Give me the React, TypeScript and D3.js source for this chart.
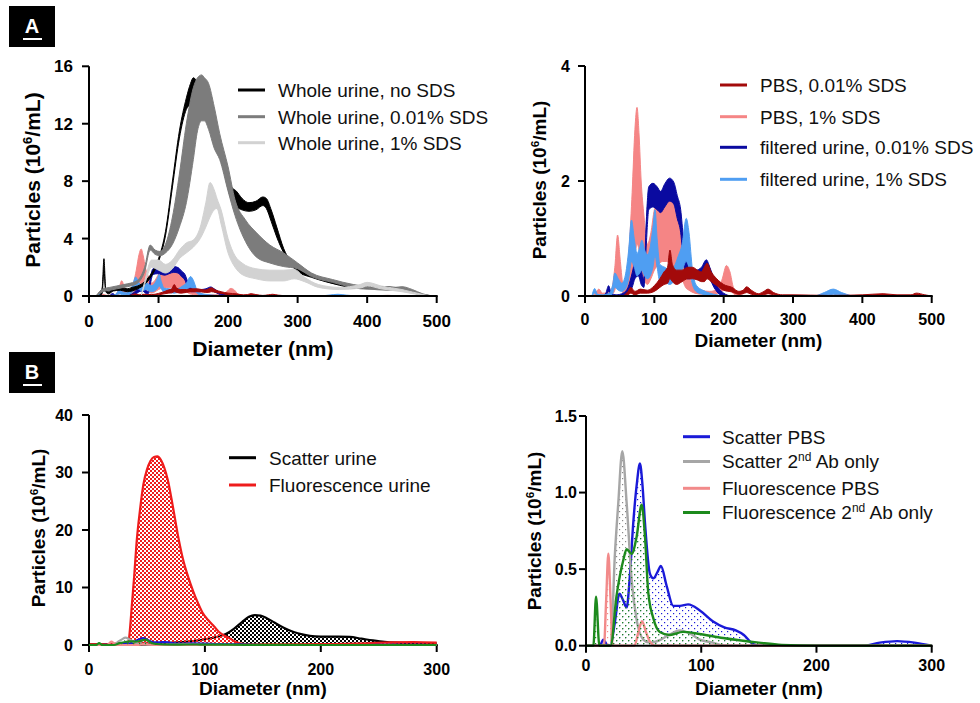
import React from 'react';
import * as d3 from 'd3';

// ---------- Panel A (left): whole urine, bands (lower / upper) ----------
const noSdsX = [10, 15, 19, 21.5, 24, 28, 35, 45, 55, 62, 70, 80, 90, 100, 110, 120, 130, 140, 146, 150, 153, 158, 165, 175, 185, 195, 205, 212, 220, 230, 240, 250, 255, 262, 270, 280, 290, 300, 320, 340, 360, 380, 400, 420, 440, 460, 480, 500];
const noSdsHi = [0, 0.05, 0.6, 2.6, 0.5, 0.3, 0.6, 0.6, 0.5, 0.6, 0.7, 1.0, 1.6, 2.6, 4.5, 8.0, 11.5, 13.8, 14.8, 15.2, 15.1, 14.5, 13.5, 12.8, 11.2, 9.6, 7.6, 7.3, 6.8, 6.5, 6.6, 6.9, 6.8, 6.0, 4.8, 3.3, 2.4, 1.9, 1.45, 1.15, 0.9, 0.7, 0.65, 0.65, 0.6, 0.4, 0.1, 0];
const noSdsLo = [0, 0, 0.2, 1.8, 0.3, 0.15, 0.35, 0.4, 0.3, 0.35, 0.5, 0.8, 1.4, 2.4, 4.2, 7.6, 11.0, 13.0, 13.4, 13.8, 14.0, 13.5, 12.8, 12.0, 10.2, 8.6, 6.6, 6.2, 6.0, 5.9, 6.0, 6.3, 6.1, 5.2, 4.1, 3.0, 2.2, 1.7, 1.3, 1.0, 0.75, 0.55, 0.5, 0.5, 0.45, 0.3, 0.05, 0];

const sds001X = [10, 20, 30, 40, 50, 60, 70, 80, 88, 95, 102, 110, 120, 130, 140, 150, 156, 162, 166, 172, 180, 188, 200, 210, 225, 241, 260, 280, 300, 320, 350, 380, 400, 430, 450, 465, 480, 495];
const sds001Hi = [0, 0.5, 0.6, 0.7, 0.8, 0.9, 1.1, 2.0, 3.55, 3.2, 3.1, 3.6, 5.5, 8.5, 12.0, 14.5, 15.2, 15.4, 15.2, 14.8, 13.2, 11.3, 9.0, 6.7, 5.3, 4.4, 3.55, 3.0, 2.3, 1.6, 1.15, 0.8, 0.65, 0.55, 0.65, 0.45, 0.15, 0];
const sds001Lo = [0, 0.3, 0.4, 0.5, 0.6, 0.7, 0.9, 1.7, 3.2, 2.9, 2.8, 3.0, 3.6, 4.8, 6.5, 9.5, 11.5, 12.2, 12.2, 11.6, 10.3, 9.5, 7.3, 5.6, 3.8, 2.7, 2.3, 2.05, 1.9, 1.35, 0.95, 0.6, 0.5, 0.4, 0.45, 0.3, 0.05, 0];

const sds1X = [75, 80, 90, 100, 110, 120, 130, 140, 150, 160, 168, 174, 180, 184, 190, 200, 210, 220, 240, 260, 280, 295, 310, 330, 360, 390, 400, 420, 450, 480, 490];
const sds1Hi = [0, 1.0, 2.5, 2.5, 2.2, 2.5, 3.2, 3.7, 3.9, 4.8, 6.5, 7.9, 7.4, 6.8, 6.0, 4.0, 2.8, 2.3, 1.9, 1.8, 1.8, 1.85, 1.3, 0.8, 0.6, 0.8, 0.95, 0.7, 0.45, 0.1, 0];
const sds1Lo = [0, 0.8, 2.0, 1.8, 1.6, 1.9, 2.6, 3.0, 3.4, 4.0, 4.8, 5.5, 6.0, 6.1, 5.0, 3.0, 2.0, 1.5, 1.2, 1.05, 1.05, 1.2, 1.0, 0.6, 0.45, 0.55, 0.7, 0.5, 0.3, 0.05, 0];

// ---------- Panel A (right): PBS and filtered urine, bands ----------
const pbs001X = [55, 62, 66, 72, 80, 90, 100, 108, 114, 119, 122.5, 126, 132, 140, 148, 155, 162, 168, 172, 176, 182, 190, 200, 212, 222, 228, 233, 240, 250, 258, 264, 272, 285, 300, 350, 400, 430, 450, 470, 478, 490, 500];
const pbs001Hi = [0, 0.08, 0.15, 0.08, 0.12, 0.1, 0.18, 0.3, 0.42, 0.5, 0.8, 0.55, 0.45, 0.45, 0.5, 0.5, 0.45, 0.42, 0.5, 0.57, 0.42, 0.3, 0.2, 0.15, 0.08, 0.1, 0.16, 0.1, 0.04, 0.08, 0.12, 0.06, 0.02, 0.02, 0.01, 0.02, 0.04, 0.02, 0.02, 0.05, 0.02, 0];
const pbs001Lo = [0, 0.02, 0.05, 0.02, 0.05, 0.05, 0.08, 0.15, 0.2, 0.22, 0.3, 0.25, 0.2, 0.25, 0.3, 0.3, 0.28, 0.25, 0.25, 0.3, 0.25, 0.18, 0.1, 0.07, 0.03, 0.04, 0.06, 0.03, 0.01, 0.02, 0.04, 0.02, 0, 0, 0, 0, 0.01, 0, 0, 0.01, 0, 0];

const pbs1X = [10, 15, 20, 25, 30, 38, 43, 47, 51, 55, 60, 64, 68, 72, 75, 78, 81, 85, 90, 95, 100, 106, 112, 118, 124, 130, 135, 140, 145, 150, 158, 168, 180, 192, 198, 204, 209, 214, 222, 235];
const pbs1Hi = [0, 0.05, 0.12, 0.05, 0.05, 0.1, 0.5, 1.06, 0.6, 0.2, 0.3, 0.9, 1.8, 2.9, 3.28, 2.8, 2.0, 1.4, 0.9, 1.1, 1.5, 1.65, 1.72, 1.75, 1.65, 1.6, 1.5, 1.1, 0.6, 0.35, 0.18, 0.1, 0.08, 0.12, 0.3, 0.53, 0.42, 0.15, 0.03, 0];
const pbs1Lo = [0, 0, 0.04, 0, 0, 0.02, 0.1, 0.3, 0.2, 0.05, 0.08, 0.2, 0.4, 0.7, 0.9, 0.8, 0.5, 0.3, 0.2, 0.3, 0.45, 0.55, 0.6, 0.6, 0.55, 0.5, 0.45, 0.3, 0.15, 0.1, 0.05, 0.03, 0.02, 0.04, 0.08, 0.15, 0.12, 0.04, 0, 0];

const filt001X = [25, 30, 34, 38, 45, 55, 62, 68, 72, 77, 81, 85, 88, 92, 98, 104, 109, 115, 122, 128, 133, 138, 142, 147, 152, 160, 168, 175, 180, 186, 192, 200, 210];
const filt001Hi = [0, 0.05, 0.18, 0.05, 0.02, 0.05, 0.15, 0.4, 0.6, 0.68, 0.45, 0.3, 1.2, 1.9, 1.96, 1.9, 1.82, 1.95, 2.05, 1.98, 1.75, 1.5, 1.0, 0.6, 0.45, 0.45, 0.5, 0.63, 0.5, 0.3, 0.15, 0.05, 0];
const filt001Lo = [0, 0, 0.08, 0, 0, 0, 0.05, 0.15, 0.3, 0.35, 0.2, 0.15, 0.8, 1.5, 1.55, 1.5, 1.45, 1.55, 1.65, 1.6, 1.35, 1.1, 0.6, 0.3, 0.3, 0.3, 0.35, 0.4, 0.3, 0.15, 0.05, 0, 0];

const filt1X = [10, 14, 18, 25, 35, 40, 43, 48, 53, 58, 63, 67, 71, 75, 79, 82, 86, 90, 94, 98, 101, 104, 108, 115, 122, 128, 134, 140, 146, 150, 155, 161, 170, 180, 190, 200, 330, 345, 358, 370, 385];
const filt1Hi = [0, 0.13, 0.03, 0.02, 0.05, 0.2, 0.4, 0.3, 0.22, 0.35, 0.8, 1.32, 1.0, 0.74, 0.85, 0.97, 0.8, 0.72, 0.85, 1.2, 1.5, 1.0, 0.55, 0.5, 0.45, 0.5, 0.68, 0.9, 1.35, 1.1, 0.45, 0.18, 0.1, 0.05, 0.02, 0, 0, 0.06, 0.12, 0.06, 0];
const filt1Lo = [0, 0.05, 0, 0, 0, 0.05, 0.15, 0.1, 0.08, 0.12, 0.3, 0.6, 0.5, 0.35, 0.4, 0.45, 0.35, 0.3, 0.35, 0.5, 0.7, 0.5, 0.25, 0.25, 0.2, 0.25, 0.35, 0.45, 0.6, 0.5, 0.2, 0.07, 0.03, 0.01, 0, 0, 0, 0.01, 0.03, 0.01, 0];

// ---------- Panel B (left): urine ----------
const scatUrineX = [0, 20, 40, 60, 80, 90, 100, 110, 118, 125, 132, 138, 143, 148, 153, 160, 168, 176, 185, 195, 205, 215, 225, 235, 245, 255, 265, 280, 300];
const scatUrineY = [0.1, 0.1, 0.2, 0.3, 0.5, 0.7, 1.0, 1.4, 1.9, 2.8, 4.0, 4.9, 5.2, 5.1, 4.7, 3.9, 3.0, 2.3, 1.8, 1.5, 1.45, 1.45, 1.4, 1.1, 0.8, 0.55, 0.4, 0.3, 0.3];
const fluoUrineX = [0, 10, 20, 30, 34, 35, 37, 39, 41, 44, 47, 50, 53, 56, 59, 62, 65, 68, 72, 77, 81, 85.5, 90, 94, 98, 103, 108, 112, 117, 121, 125, 130, 135, 150, 200, 240, 260, 280, 300];
const fluoUrineY = [0.1, 0.1, 0.2, 0.3, 0.5, 2, 7, 12, 17.7, 23.5, 28, 30.5, 32, 32.7, 32.8, 32.2, 30.8, 28.7, 24.5, 18.8, 15, 11.9, 9.3, 7.3, 5.6, 4.3, 3.2, 2.3, 1.6, 1.2, 0.7, 0.3, 0.15, 0.1, 0.15, 0.3, 0.45, 0.5, 0.4];

// ---------- Panel B (right): controls ----------
const scatPbsX = [0, 12, 15, 18, 21, 25, 29, 32, 35.3, 38, 41, 44, 46.8, 49, 51.2, 55.5, 58.4, 62, 65, 70, 75.7, 81.5, 88.7, 98.8, 110, 120, 130, 137, 145, 150, 240, 255, 270, 285, 300];
const scatPbsY = [0, 0, 0.04, 0.01, 0, 0.15, 0.34, 0.3, 0.25, 0.45, 0.8, 1.05, 1.19, 1.05, 0.8, 0.47, 0.44, 0.48, 0.52, 0.39, 0.26, 0.26, 0.27, 0.23, 0.16, 0.12, 0.1, 0.07, 0.01, 0, 0, 0.02, 0.03, 0.02, 0];
const scat2ndX = [0, 21.4, 25.1, 28, 31.5, 35.3, 39.6, 43.9, 49.7, 55, 65, 72, 81.5, 90, 98.8, 110, 120, 300];
const scat2ndY = [0, 0, 0.6, 0.93, 1.27, 0.93, 0.43, 0.17, 0.04, 0.02, 0.04, 0.07, 0.1, 0.08, 0.04, 0.02, 0, 0];
const fluoPbsX = [0, 15.6, 17.5, 19.4, 21.3, 23.1, 42, 45.5, 48.6, 52, 56, 60, 300];
const fluoPbsY = [0, 0, 0.3, 0.6, 0.3, 0, 0, 0.09, 0.16, 0.09, 0.02, 0, 0];
const fluo2ndX = [0, 6.4, 8.7, 11.6, 21.4, 26.4, 32.4, 35.3, 39.6, 43.9, 48.3, 51.2, 54, 58.4, 64, 72.8, 84.3, 96, 119, 150, 170, 200, 300];
const fluo2ndY = [0, 0, 0.32, 0, 0, 0.32, 0.56, 0.63, 0.6, 0.71, 0.92, 0.71, 0.35, 0.18, 0.09, 0.07, 0.09, 0.08, 0.05, 0.02, 0.005, 0, 0];

// ---------- Ticks / labels ----------
const aLeftYTicks = [0, 4, 8, 12, 16];
const aRightYTicks = [0, 2, 4];
const aXTicks = [0, 100, 200, 300, 400, 500];
const bLeftYTicks = [0, 10, 20, 30, 40];
const bRightYTicks = [0, 0.5, 1.0, 1.5];
const bXTicks = [0, 100, 200, 300];
const aLeftLegend = ['Whole urine, no SDS', 'Whole urine, 0.01% SDS', 'Whole urine, 1% SDS'];
const aRightLegend = ['PBS, 0.01% SDS', 'PBS, 1% SDS', 'filtered urine, 0.01% SDS', 'filtered urine, 1% SDS'];
const bLeftLegend = ['Scatter urine', 'Fluorescence urine'];

const FONT = '"Liberation Sans", Arial, Helvetica, sans-serif';

const C = {
  black: '#000000', grey: '#7c7c7c', lgrey: '#d2d2d2',
  dred: '#a30a0a', pink: '#f58585', dblue: '#0a0aa0', lblue: '#4f9ef2',
  bblue: '#1a1ad8', bgrey: '#a6a6a6', bpink: '#f28a8a', bgreen: '#1d8a1d', bred: '#ee1c1c',
};

type Band = { x: number; lo: number; hi: number };
const toBand = (xs: number[], lo: number[], hi: number[]): Band[] => xs.map((x, i) => ({ x, lo: lo[i], hi: hi[i] }));
const toPts = (xs: number[], ys: number[]) => xs.map((x, i) => ({ x, y: ys[i] }));

function Axes(p: any) {
  const { sx, sy, xTicks, yTicks, yFmt, tickFs, titleFs, xLabY, xTitleY, yLabX, yTitleX, yTitleY } = p;
  const [x0, x1] = sx.range();
  const [y0, y1] = sy.range();
  const xc = (x0 + x1) / 2 + (p.xTitleShift || 0);
  return (
    <g fontFamily={FONT} fill="#000">
      <line x1={x0} x2={x1 + 1} y1={y0} y2={y0} stroke="#000" strokeWidth={2} />
      <line x1={x0} x2={x0} y1={y0 + 1} y2={y1} stroke="#000" strokeWidth={2} />
      {xTicks.map((t: number) => (
        <g key={'x' + t}>
          <line x1={sx(t)} x2={sx(t)} y1={y0} y2={y0 + 7} stroke="#000" strokeWidth={2} />
          <text x={sx(t)} y={xLabY} textAnchor="middle" fontWeight="bold" fontSize={tickFs}>{t}</text>
        </g>
      ))}
      {yTicks.map((t: number) => (
        <g key={'y' + t}>
          <line x1={x0 - 7} x2={x0} y1={sy(t)} y2={sy(t)} stroke="#000" strokeWidth={2} />
          <text x={yLabX} y={sy(t) + tickFs * 0.36} textAnchor="end" fontWeight="bold" fontSize={tickFs}>{yFmt(t)}</text>
        </g>
      ))}
      <text x={xc} y={xTitleY} textAnchor="middle" fontWeight="bold" fontSize={titleFs}>Diameter (nm)</text>
      <text transform={`translate(${yTitleX},${yTitleY}) rotate(-90)`} textAnchor="middle" fontWeight="bold" fontSize={titleFs}>
        Particles (10<tspan dy={-titleFs * 0.38} fontSize={titleFs * 0.62}>6</tspan><tspan dy={titleFs * 0.38}>/mL)</tspan>
      </text>
    </g>
  );
}

function BandPath({ data, sx, sy, color }: any) {
  const gen = d3.area<Band>().x(d => sx(d.x)).y0(d => sy(d.lo)).y1(d => sy(d.hi)).curve(d3.curveMonotoneX);
  return <path d={gen(data) || ''} fill={color} stroke={color} strokeWidth={1} strokeLinejoin="round" />;
}

function Curve({ data, sx, sy, color, fill, width = 2.2 }: any) {
  const area = d3.area<any>().x(d => sx(d.x)).y0(sy(0)).y1(d => sy(d.y)).curve(d3.curveMonotoneX);
  const line = d3.line<any>().x(d => sx(d.x)).y(d => sy(d.y)).curve(d3.curveMonotoneX);
  return (
    <g>
      {fill && <path d={area(data) || ''} fill={fill} stroke="none" />}
      <path d={line(data) || ''} fill="none" stroke={color} strokeWidth={width} strokeLinejoin="round" />
    </g>
  );
}

function Legend({ x, textX, rows, fs }: any) {
  return (
    <g fontFamily={FONT} fontSize={fs}>
      {rows.map((r: any, i: number) => (
        <g key={i}>
          <line x1={x} x2={x + 27} y1={r.y} y2={r.y} stroke={r.color} strokeWidth={3} />
          <text x={textX} y={r.y + fs * 0.36} fill="#111">{r.label}</text>
        </g>
      ))}
    </g>
  );
}

function PanelLabel({ y, letter }: any) {
  return (
    <g>
      <rect x={9} y={y} width={46} height={41} fill="#000" />
      <text x={32} y={y + 27} textAnchor="middle" fill="#fff" fontFamily={FONT} fontWeight="bold" fontSize={20}>{letter}</text>
      <line x1={23} x2={42} y1={y + 33} y2={y + 33} stroke="#fff" strokeWidth={2} />
    </g>
  );
}

export default function App() {
  const aLx = d3.scaleLinear().domain([0, 500]).range([89, 436.7]);
  const aLy = d3.scaleLinear().domain([0, 16]).range([296, 66.3]);
  const aRx = d3.scaleLinear().domain([0, 500]).range([585, 931.7]);
  const aRy = d3.scaleLinear().domain([0, 4]).range([296, 66]);
  const bLx = d3.scaleLinear().domain([0, 300]).range([89, 436.7]);
  const bLy = d3.scaleLinear().domain([0, 40]).range([645, 415]);
  const bRx = d3.scaleLinear().domain([0, 300]).range([586, 931.7]);
  const bRy = d3.scaleLinear().domain([0, 1.5]).range([645.7, 416]);

  const noSds = toBand(noSdsX, noSdsLo, noSdsHi);
  const sds001 = toBand(sds001X, sds001Lo, sds001Hi);
  const sds1 = toBand(sds1X, sds1Lo, sds1Hi);
  const pbs001 = toBand(pbs001X, pbs001Lo, pbs001Hi);
  const pbs1 = toBand(pbs1X, pbs1Lo, pbs1Hi);
  const filt001 = toBand(filt001X, filt001Lo, filt001Hi);
  const filt1 = toBand(filt1X, filt1Lo, filt1Hi);

  const scatUrine = toPts(scatUrineX, scatUrineY);
  const fluoUrine = toPts(fluoUrineX, fluoUrineY);
  const scatPbs = toPts(scatPbsX, scatPbsY);
  const scat2nd = toPts(scat2ndX, scat2ndY);
  const fluoPbs = toPts(fluoPbsX, fluoPbsY);
  const fluo2nd = toPts(fluo2ndX, fluo2ndY);

  const smallA = (sx: any, sy: any) => (
    <g>
      <BandPath data={pbs1} sx={sx} sy={sy} color={C.pink} />
      <BandPath data={filt001} sx={sx} sy={sy} color={C.dblue} />
      <BandPath data={filt1} sx={sx} sy={sy} color={C.lblue} />
      <BandPath data={pbs001} sx={sx} sy={sy} color={C.dred} />
    </g>
  );

  const smallB = (sx: any, sy: any, w: number) => (
    <g>
      <Curve data={scatPbs} sx={sx} sy={sy} color={C.bblue} fill="url(#dotBlue)" width={w} />
      <Curve data={scat2nd} sx={sx} sy={sy} color={C.bgrey} fill="url(#dotGrey)" width={w} />
      <Curve data={fluoPbs} sx={sx} sy={sy} color={C.bpink} fill="url(#dotPink)" width={w} />
      <Curve data={fluo2nd} sx={sx} sy={sy} color={C.bgreen} fill="url(#dotGreen)" width={w} />
    </g>
  );

  const dotPattern = (id: string, color: string) => (
    <pattern id={id} width={6} height={6} patternUnits="userSpaceOnUse">
      <rect x={1} y={1} width={1.2} height={1.2} fill={color} />
      <rect x={4} y={4} width={1.2} height={1.2} fill={color} />
    </pattern>
  );
  const checker = (id: string, color: string) => (
    <pattern id={id} width={4} height={4} patternUnits="userSpaceOnUse">
      <rect x={0} y={0} width={2} height={2} fill={color} />
      <rect x={2} y={2} width={2} height={2} fill={color} />
    </pattern>
  );

  return (
    <svg width={980} height={703} style={{ position: 'absolute', left: 0, top: 0, background: '#fff' }}>
      <defs>
        {dotPattern('dotBlue', C.bblue)}
        {dotPattern('dotGrey', '#888')}
        {dotPattern('dotPink', C.bpink)}
        {dotPattern('dotGreen', C.bgreen)}
        {checker('chkRed', C.bred)}
        {checker('chkBlack', '#000')}
      </defs>
      <rect width={980} height={703} fill="#fff" />

      <PanelLabel y={6} letter="A" />
      <PanelLabel y={352} letter="B" />

      {/* ---- A left ---- */}
      {smallA(aLx, aLy)}
      <BandPath data={noSds} sx={aLx} sy={aLy} color={C.black} />
      <BandPath data={sds001} sx={aLx} sy={aLy} color={C.grey} />
      <BandPath data={sds1} sx={aLx} sy={aLy} color={C.lgrey} />
      <Axes sx={aLx} sy={aLy} xTicks={aXTicks} yTicks={aLeftYTicks} yFmt={(t: number) => String(t)}
        tickFs={17} titleFs={21} xLabY={327} xTitleY={356} yLabX={73} yTitleX={40} yTitleY={180} />
      <Legend x={238} textX={278} fs={19} rows={[
        { y: 90, color: C.black, label: aLeftLegend[0] },
        { y: 116.7, color: C.grey, label: aLeftLegend[1] },
        { y: 142.7, color: C.lgrey, label: aLeftLegend[2] },
      ]} />

      {/* ---- A right ---- */}
      {smallA(aRx, aRy)}
      <Axes sx={aRx} sy={aRy} xTicks={aXTicks} yTicks={aRightYTicks} yFmt={(t: number) => String(t)}
        tickFs={16} titleFs={19} xLabY={325} xTitleY={347} yLabX={570} yTitleX={546} yTitleY={180} />
      <Legend x={720} textX={760} fs={19} rows={[
        { y: 85, color: C.dred, label: aRightLegend[0] },
        { y: 116.7, color: C.pink, label: aRightLegend[1] },
        { y: 147.3, color: C.dblue, label: aRightLegend[2] },
        { y: 179.3, color: C.lblue, label: aRightLegend[3] },
      ]} />

      {/* ---- B left ---- */}
      <Curve data={scatUrine} sx={bLx} sy={bLy} color="#000" fill="url(#chkBlack)" width={2.2} />
      <Curve data={fluoUrine} sx={bLx} sy={bLy} color={C.bred} fill="url(#chkRed)" width={2.2} />
      <Axes sx={bLx} sy={bLy} xTicks={bXTicks} yTicks={bLeftYTicks} yFmt={(t: number) => String(t)}
        tickFs={16} titleFs={19} xLabY={675} xTitleY={695} yLabX={73} yTitleX={45} yTitleY={528} />
      {smallB(bLx, bLy, 2.2)}
      <Legend x={229} textX={269} fs={19} rows={[
        { y: 457.7, color: '#000', label: bLeftLegend[0] },
        { y: 485, color: C.bred, label: bLeftLegend[1] },
      ]} />

      {/* ---- B right ---- */}
      {smallB(bRx, bRy, 2.4)}
      <Axes sx={bRx} sy={bRy} xTicks={bXTicks} yTicks={bRightYTicks} yFmt={(t: number) => t.toFixed(1)}
        tickFs={16} titleFs={19} xLabY={671} xTitleY={695} yLabX={577} yTitleX={541} yTitleY={531} />
      <g fontFamily={FONT} fontSize={19} fill="#111">
        <line x1={683} x2={710} y1={436.7} y2={436.7} stroke={C.bblue} strokeWidth={3} />
        <text x={722} y={443.5}>Scatter PBS</text>
        <line x1={683} x2={710} y1={461.5} y2={461.5} stroke={C.bgrey} strokeWidth={3} />
        <text x={722} y={468.3}>Scatter 2<tspan dy={-7} fontSize={12}>nd</tspan><tspan dy={7}> Ab only</tspan></text>
        <line x1={683} x2={710} y1={488.3} y2={488.3} stroke={C.bpink} strokeWidth={3} />
        <text x={722} y={495.1}>Fluorescence PBS</text>
        <line x1={683} x2={710} y1={512.5} y2={512.5} stroke={C.bgreen} strokeWidth={3} />
        <text x={722} y={519.3}>Fluorescence 2<tspan dy={-7} fontSize={12}>nd</tspan><tspan dy={7}> Ab only</tspan></text>
      </g>
    </svg>
  );
}
